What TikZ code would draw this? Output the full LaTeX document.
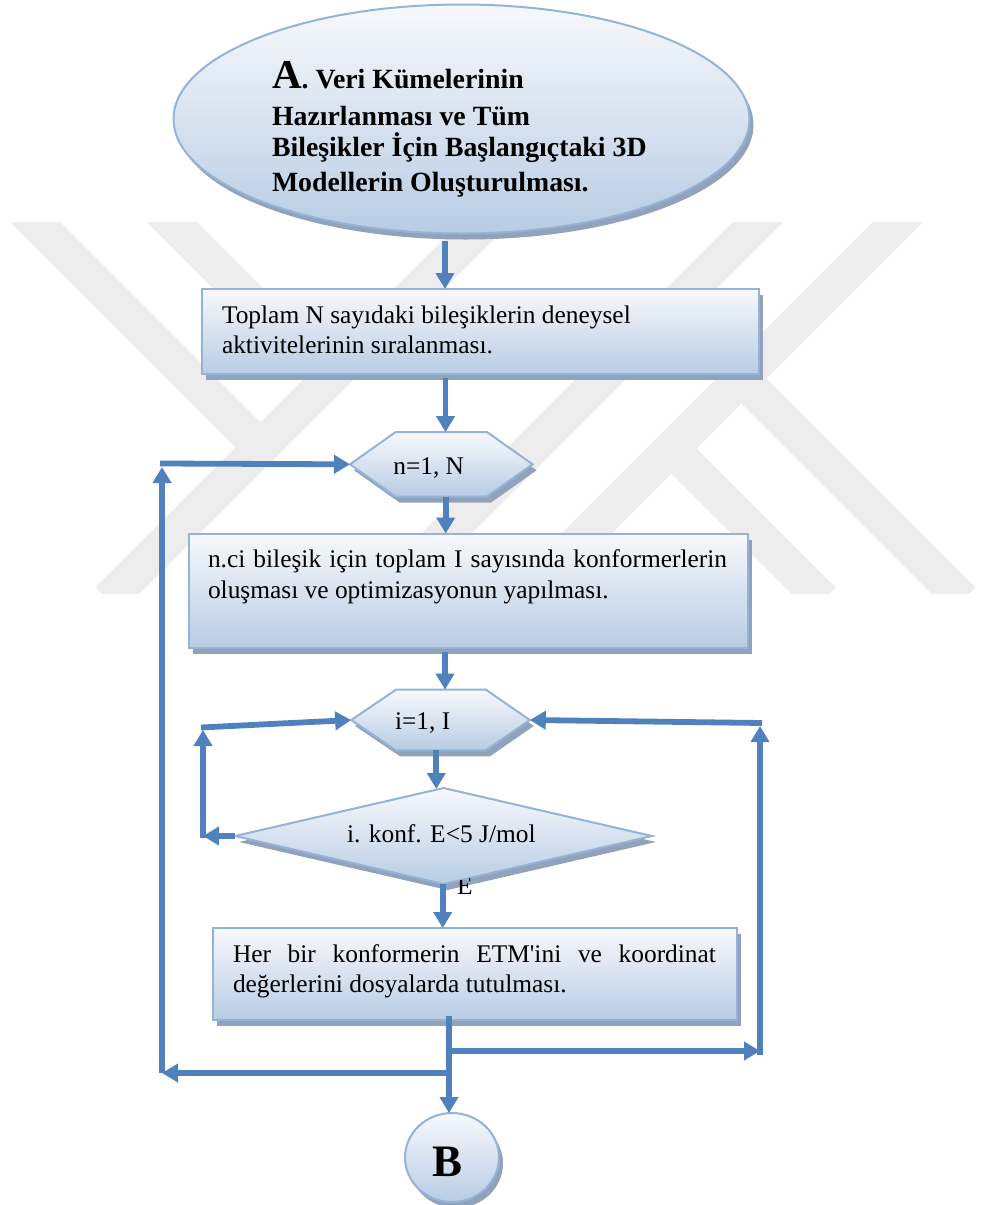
\documentclass[tikz,border=0pt]{standalone}
\usepackage{fontspec}
\setmainfont{Liberation Serif}
\usetikzlibrary{shapes.geometric,arrows.meta,shadows,calc}

\definecolor{flowline}{RGB}{79,129,189}
\definecolor{shapeedge}{RGB}{149,179,215}
\definecolor{shadetop}{RGB}{247,249,252}
\definecolor{shadebot}{RGB}{184,204,228}
\definecolor{shadowc}{RGB}{146,162,186}
\definecolor{wmark}{RGB}{237,237,237}

\pgfdeclarelayer{wm}
\pgfdeclarelayer{bg}
\pgfsetlayers{wm,bg,main}

\begin{document}
\begin{tikzpicture}[x=0.5pt,y=-0.5pt,
  flowshape/.style={draw=shapeedge, line width=1pt,
    top color=shadetop, bottom color=shadebot,
    drop shadow={shadow xshift=2pt, shadow yshift=-3pt, fill=shadowc, opacity=1}},
  frame/.style={inner sep=0pt, outer sep=0pt},
  txt/.style={inner sep=0pt, outer sep=0pt, anchor=base west,
    font=\fontsize{12.7pt}{15pt}\selectfont},
  btxt/.style={inner sep=0pt, outer sep=0pt, anchor=base west,
    font=\fontsize{13.9pt}{16pt}\selectfont\bfseries},
  arr/.style={draw=flowline, line width=2.9pt,
    -{Triangle[width=9pt,length=8pt]}},
  band/.style={draw=wmark, line width=17.7pt}
]
\useasboundingbox (0,0) rectangle (981,1205);

% ---------- background emblem ----------
\begin{pgfonlayer}{wm}
\begin{scope}
  \clip (0,222) rectangle (981,593);
  \draw[band] (13,200) -- (273,460);
  \draw[band] (150,200) -- (341.5,391.5);
  \draw[band] (108,600) -- (508,200);
  \draw[band] (920,200) -- (520,600);
  \draw[band] (780,200) -- (380,600);
  \draw[band] (659,436) -- (823,600);
  \draw[band] (729,366) -- (963,600);
\end{scope}
\end{pgfonlayer}

% ---------- shapes ----------
\node[flowshape, frame, ellipse, minimum width=288pt, minimum height=114.5pt]
  (start) at (461.5,119) {};
\node[flowshape, frame, rectangle, minimum width=278.5pt, minimum height=42.5pt]
  (b1) at (480.5,331.5) {};
\node[frame, minimum width=91.3pt, minimum height=32.2pt] (h1) at (441.3,464.3) {};
\node[flowshape, frame, rectangle, minimum width=279.5pt, minimum height=57pt]
  (b2) at (468.5,590.5) {};
\node[frame, minimum width=89.3pt, minimum height=30.4pt] (h2) at (440.5,720) {};
\node[frame, minimum width=208.5pt, minimum height=48pt] (d) at (443.5,836) {};
\node[flowshape, frame, rectangle, minimum width=262pt, minimum height=46pt]
  (b3) at (475,974) {};
\node[flowshape, frame, ellipse, minimum width=47pt, minimum height=44.5pt]
  (endB) at (452,1157.5) {};

\begin{pgfonlayer}{bg}
  \path[flowshape] ([xshift=22.75pt]h1.north west) -- ([xshift=-22.75pt]h1.north east)
    -- (h1.east) -- ([xshift=-22.75pt]h1.south east) -- ([xshift=22.75pt]h1.south west)
    -- (h1.west) -- cycle;
  \path[flowshape] ([xshift=22.5pt]h2.north west) -- ([xshift=-22pt]h2.north east)
    -- (h2.east) -- ([xshift=-22pt]h2.south east) -- ([xshift=22.5pt]h2.south west)
    -- (h2.west) -- cycle;
  \path[flowshape] (d.north) -- (d.east) -- (d.south) -- (d.west) -- cycle;
  % the "E" label sits just under the decision's lower edge and is cut by it
  \begin{scope}
    \clip (d.south) -- (d.east) -- (652,950) -- (443.5,950) -- cycle;
    \node[txt] (elab) at (457,894) {E};
  \end{scope}
\end{pgfonlayer}

% ---------- texts ----------
\node[btxt] (s1) at (272,88.3) {{\fontsize{20.5pt}{21pt}\selectfont A}. Veri Kümelerinin};
\node[btxt] (s2) at (272,125) {Hazırlanması ve Tüm};
\node[btxt] (s3) at (272,156.7) {Bileşikler İçin Başlangıçtaki 3D};
\node[btxt] (s4) at (272,191.7) {Modellerin Oluşturulması.};

\node[txt] (t1a) at (222,323.5) {Toplam N sayıdaki bileşiklerin deneysel};
\node[txt] (t1b) at (222,353.5) {aktivitelerinin sıralanması.};

\node[txt] (h1t) at (393.3,474) {n=1, N};

\node[txt] (t2a) at (208,567) {\makebox[259.5pt][s]{n.ci bileşik için toplam I sayısında konformerlerin}};
\node[txt] (t2b) at (208,598) {oluşması ve optimizasyonun yapılması.};

\node[txt] (h2t) at (395,729) {i=1, I};

\node[txt] (dt) at (347,842) {i. konf. E<5 J/mol};

\node[txt] (t3a) at (233,962) {\makebox[241.5pt][s]{Her bir konformerin ETM\textquotesingle ini ve koordinat}};
\node[txt] (t3b) at (233,992) {değerlerini dosyalarda tutulması.};

\node[inner sep=0pt, font=\fontsize{22.5pt}{24pt}\selectfont\bfseries] (Bt) at (448,1162) {B};

% ---------- connectors ----------
\coordinate (j1) at (449,1073);
\coordinate (j2) at (449,1051);
\coordinate (cL1) at (162,1073);
\coordinate (cL2) at (162,467);
\coordinate (cL3) at (160,463.5);
\coordinate (cR1) at (760,1051);
\coordinate (cR1b) at (760,1055);
\coordinate (cR2) at (760,726);
\coordinate (cR3) at (762,723);
\coordinate (cD1) at (203,836);
\coordinate (cD1b) at (203,838);
\coordinate (cD2) at (203,730);
\coordinate (cD3) at (201,727.5);

\draw[arr] ([xshift=-8.25pt,yshift=-3.5pt]start.south) coordinate (a1s) -- (a1s |- b1.north);
\draw[arr] ([xshift=-17.5pt,yshift=-2pt]b1.south) coordinate (a2s) -- (a2s |- h1.north);
\draw[arr] ([xshift=2.2pt]h1.south) coordinate (a3s) -- (a3s |- b2.north);
\draw[arr] ([xshift=-11.75pt,yshift=-2pt]b2.south) coordinate (a4s) -- (a4s |- h2.north);
\draw[arr] ([xshift=-2.1pt]h2.south) coordinate (a5s) -- ($(a5s |- d.north)+(0,1)$);
\draw[arr] ([xshift=-0.4pt]d.south) coordinate (a6s) -- (a6s |- b3.north);
\draw[arr] ([xshift=-13pt,yshift=2pt]b3.south) coordinate (a7s) -- (a7s |- endB.north);

\draw[arr] (j2) -- (cR1);
\draw[arr] (cR1b) -- (cR2);
\draw[arr] (cR3) -- (h2.east);

\draw[arr] (j1) -- (cL1);
\draw[arr] (cL1) -- (cL2);
\draw[arr] (cL3) -- (h1.west);

\draw[arr] (d.west) -- (cD1);
\draw[arr] (cD1b) -- (cD2);
\draw[arr] (cD3) -- (h2.west);
\end{tikzpicture}
\end{document}
